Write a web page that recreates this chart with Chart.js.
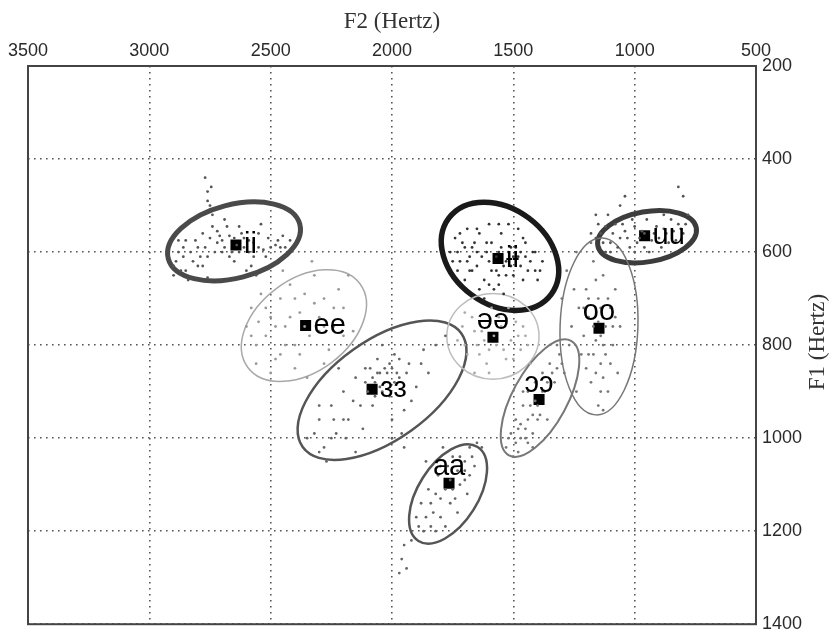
<!DOCTYPE html>
<html>
<head>
<meta charset="utf-8">
<script src="https://cdn.jsdelivr.net/npm/chart.js@4/dist/chart.umd.min.js"></script>
<style>
html,body{margin:0;padding:0;background:#fff;}
#wrap{width:837px;height:641px;}
</style>
</head>
<body>
<div id="wrap"><canvas id="c" width="837" height="641"></canvas></div>
<script>
// ---------- DATA ----------
const xTicks = [3500, 3000, 2500, 2000, 1500, 1000, 500];
const yTicks = [200, 400, 600, 800, 1000, 1200, 1400];
const xTitle = 'F2 (Hertz)';
const yTitle = 'F1 (Hertz)';

const categories = ['ii', 'ee', 'ɜɜ', 'ɨɨ', 'uu', 'əə', 'oo', 'ɔɔ', 'aa'];
const meanF2 = [2643, 2356, 2082, 1563, 959, 1584, 1147, 1394, 1765];
const meanF1 = [585, 758, 895, 614, 565, 783, 764, 917, 1097];

// ellipse: centre, end of major semi-axis (both in Hz), minor/major ratio
const ellipseCenterF2 = [2651, 2363, 2041, 1555, 949, 1584, 1147, 1390, 1769];
const ellipseCenterF1 = [577, 758, 897, 609, 567, 781, 760, 914, 1120];
const ellipseAxisEndF2 = [2380, 2132, 1714, 1344, 746, 1394, 1160, 1262, 1647];
const ellipseAxisEndF1 = [540, 668, 775, 691, 548, 781, 950, 791, 1019];
const ellipseMinorRatio = [0.54, 0.66, 0.51, 0.75, 0.5, 0.93, 0.44, 0.42, 0.54];

// token clouds [F2, F1]
const cloudIi = [[2880,600],[2850,575],[2820,620],[2800,590],[2780,560],[2760,610],[2740,545],[2720,580],[2700,600],[2690,530],[2670,565],[2650,620],[2630,545],[2610,590],[2590,575],[2570,610],[2550,560],[2530,595],[2510,570],[2480,585],[2450,565],[2420,575],[2600,640],[2560,650],[2870,640],[2900,650],[2760,470],[2770,440],[2750,500],[2740,520],[2660,600],[2700,575],[2620,560],[2580,630],[2800,630],[2840,660],[2680,545],[2540,540],[2720,555],[2640,585],[2460,590],[2860,610],
  [2890,620],[2860,590],[2830,600],[2810,575],[2790,610],[2770,590],[2750,570],[2730,600],[2710,565],[2690,590],[2670,610],[2650,570],[2630,600],[2610,570],[2590,600],[2570,580],[2550,590],[2520,610],[2500,590],[2470,575],[2440,590],[2880,575],[2900,630],[2850,640],[2780,630],[2760,655],[2760,490],[2745,460]];
const cloudEe = [[2600,760],[2580,720],[2560,800],[2540,690],[2520,780],[2500,740],[2480,830],[2460,700],[2440,760],[2420,670],[2400,800],[2380,730],[2360,690],[2340,780],[2320,650],[2300,740],[2280,700],[2260,810],[2240,760],[2220,680],[2200,720],[2180,650],[2160,770],[2400,850],[2350,870],[2500,860],[2280,840],[2450,640],[2330,620],[2550,750],[2420,740],[2300,770],
  [2580,780],[2520,720],[2480,760],[2440,800],[2400,700],[2360,760],[2320,710],[2280,760],[2240,720],[2200,780],[2460,820],[2380,820],[2560,840]];
const cloudEh = [[2350,1000],[2300,960],[2280,1020],[2250,930],[2230,990],[2200,900],[2180,960],[2150,870],[2130,930],[2110,850],[2100,900],[2080,870],[2060,830],[2050,890],[2030,850],[2010,910],[1990,820],[1970,870],[1950,940],[1930,840],[1900,890],[1870,810],[1850,860],[1820,800],[1780,780],[1960,990],[2000,960],[2150,1030],[2270,1050],[2220,850],[1920,920],[2040,800],[2120,980],[2080,930],[1990,880],[2010,840],[2060,860],[1970,830],
  [2070,880],[2050,860],[2030,880],[2020,860],[2090,850],[2000,850],[1980,860],[2040,900],[2110,880],[2070,910],[1940,860],[1880,840],[2160,920],[2200,960],[2250,1000],[2300,1030],[2320,990],[2190,1000],[2240,960],[2300,930],[2000,1000],[1950,1020]];
const cloudIbar = [[1760,600],[1740,570],[1720,620],[1700,590],[1690,550],[1670,640],[1650,600],[1640,560],[1620,660],[1600,620],[1590,580],[1570,640],[1560,600],[1550,560],[1530,620],[1510,590],[1500,650],[1480,610],[1460,570],[1440,640],[1420,600],[1400,660],[1380,620],[1580,680],[1540,690],[1620,700],[1700,660],[1730,640],[1480,550],[1520,540],[1600,540],[1660,580],[1560,650],[1450,610],[1410,640],[1500,610],[1680,610],[1610,600],[1540,630],[1470,630],
  [1750,620],[1730,600],[1710,580],[1690,620],[1670,590],[1650,630],[1630,610],[1610,580],[1590,640],[1570,610],[1550,590],[1530,650],[1510,630],[1490,590],[1470,600],[1450,580],[1430,620],[1410,600],[1390,640],[1600,670],[1640,680],[1560,670],[1680,640],[1520,600],[1460,660],[1720,560],[1650,550],[1560,540]];
const cloudUu = [[1180,560],[1150,540],[1130,580],[1110,520],[1090,560],[1070,590],[1050,540],[1030,570],[1010,530],[990,580],[970,555],[950,530],[930,575],[910,545],[890,590],[870,560],[850,530],[830,575],[810,550],[790,540],[1060,500],[1040,480],[800,480],[820,460],[780,520],[1000,600],[940,600],[1120,600],[880,520],[960,560],
  [1160,570],[1140,560],[1120,545],[1100,580],[1080,540],[1060,570],[1040,555],[1020,590],[1000,545],[980,570],[960,590],[920,560],[900,570],[880,550],[860,580],[840,555],[820,540],[800,560],[1160,520],[1100,600]];
const cloudSchwa = [[1730,790],[1710,760],[1690,820],[1670,740],[1650,800],[1630,770],[1610,840],[1590,720],[1570,800],[1550,760],[1530,830],[1510,790],[1490,750],[1470,810],[1450,780],[1430,840],[1600,860],[1660,860],[1520,720],[1700,730],[1580,780],[1640,820],
  [1700,800],[1620,790],[1560,740],[1540,810],[1480,780],[1460,760],[1660,770],[1600,810],[1500,830],[1440,800]];
const cloudOo = [[1300,700],[1280,640],[1260,760],[1240,600],[1220,820],[1200,680],[1190,740],[1180,880],[1170,620],[1160,790],[1150,700],[1140,840],[1130,650],[1120,760],[1110,900],[1100,720],[1090,800],[1080,680],[1070,860],[1060,760],[1180,580],[1240,900],[1150,930],[1200,850],[1120,600],[1140,780],[1170,820],[1130,870],[1210,720],
  [1250,680],[1230,720],[1210,780],[1190,700],[1170,760],[1160,660],[1150,750],[1140,720],[1130,800],[1120,820],[1110,700],[1100,840],[1090,760],[1080,740],[1160,860],[1190,820],[1140,900],[1130,940]];
const cloudOpen = [[1530,1020],[1510,990],[1500,1040],[1490,960],[1470,1000],[1460,930],[1450,980],[1440,900],[1420,950],[1410,880],[1400,930],[1380,860],[1370,900],[1350,840],[1330,880],[1310,820],[1290,860],[1270,800],[1480,1030],[1420,990],[1360,960],[1440,1010],[1320,800],[1390,950],[1460,900],
  [1520,1000],[1490,1010],[1470,970],[1450,1000],[1440,960],[1430,930],[1410,920],[1400,960],[1380,900],[1360,880],[1340,860],[1320,850],[1300,840],[1420,1020],[1480,980]];
const cloudAa = [[1900,1170],[1880,1140],[1870,1200],[1850,1110],[1830,1160],[1810,1080],[1800,1130],[1780,1190],[1770,1060],[1750,1110],[1730,1160],[1720,1040],[1700,1090],[1680,1020],[1660,1060],[1650,1010],[1820,1200],[1760,1140],[1700,1050],[1690,1120],[1950,1230],[1960,1260],[1940,1280],[1920,1220],[1970,1290],[1630,1020],[1860,1050],[1790,1020],
  [1890,1190],[1860,1170],[1840,1140],[1820,1120],[1800,1170],[1780,1110],[1760,1090],[1740,1130],[1720,1100],[1700,1070],[1680,1080],[1670,1040],[1840,1190],[1800,1060],[1750,1040],[1730,1070]];

const clouds = [cloudIi, cloudEe, cloudEh, cloudIbar, cloudUu, cloudSchwa, cloudOo, cloudOpen, cloudAa];

// ---------- STYLES ----------
const cloudColors = ['#555','#999','#666','#333','#555','#aaa','#777','#777','#666'];
const ellipseColors = ['#4a4a4a','#a8a8a8','#555','#1a1a1a','#3c3c3c','#bdbdbd','#777','#777','#555'];
const ellipseWidths = [5, 1.5, 2.5, 5.5, 5, 1.5, 1.5, 2, 2.5];
const labelSide = ['right','right','right','right','right','above','above','above','above'];

const datasets = clouds.map((pts, i) => ({
  label: categories[i] + ' tokens',
  data: pts.map(p => ({x: p[0], y: p[1]})),
  pointRadius: 1.4,
  pointBorderWidth: 0,
  backgroundColor: cloudColors[i],
  borderColor: cloudColors[i],
}));
datasets.push({
  label: 'means',
  data: meanF2.map((f2, i) => ({x: f2, y: meanF1[i]})),
  pointStyle: 'rect',
  pointRadius: 7.8,
  pointBorderWidth: 0,
  backgroundColor: '#000',
  borderColor: '#000',
});
const MEANS = datasets.length - 1;

const ellipsePlugin = {
  id: 'ellipses',
  beforeDatasetDraw(chart, args) {
    if (args.index !== MEANS) return;
    const xs = chart.scales.x, ys = chart.scales.y, ctx = chart.ctx;
    ctx.save();
    for (let i = 0; i < ellipseCenterF2.length; i++) {
      const cx = xs.getPixelForValue(ellipseCenterF2[i]);
      const cy = ys.getPixelForValue(ellipseCenterF1[i]);
      const ex = xs.getPixelForValue(ellipseAxisEndF2[i]);
      const ey = ys.getPixelForValue(ellipseAxisEndF1[i]);
      const a = Math.hypot(ex - cx, ey - cy);
      const rot = Math.atan2(ey - cy, ex - cx);
      ctx.beginPath();
      ctx.ellipse(cx, cy, a, a * ellipseMinorRatio[i], rot, 0, Math.PI * 2);
      ctx.lineWidth = ellipseWidths[i];
      ctx.strokeStyle = ellipseColors[i];
      ctx.stroke();
    }
    ctx.restore();
  },
  afterDatasetsDraw(chart) {
    const ctx = chart.ctx;
    const meta = chart.getDatasetMeta(MEANS);
    ctx.save();
    ctx.font = '29px "Liberation Sans", Arial, sans-serif';
    ctx.fillStyle = '#000';
    ctx.textBaseline = 'alphabetic';
    meta.data.forEach((pt, i) => {
      if (labelSide[i] === 'right') {
        ctx.textAlign = 'left';
        ctx.fillText(categories[i], pt.x + 8, pt.y + 8);
      } else {
        ctx.textAlign = 'center';
        ctx.fillText(categories[i], pt.x, pt.y - 8);
      }
    });
    // frame
    const ca = chart.chartArea;
    ctx.lineWidth = 2;
    ctx.strokeStyle = '#444';
    ctx.strokeRect(ca.left, ca.top, ca.right - ca.left, ca.bottom - ca.top);
    // right axis title, reading bottom to top
    ctx.translate(818, (ca.top + ca.bottom) / 2 - 3);
    ctx.rotate(-Math.PI / 2);
    ctx.font = '23px "Liberation Serif", "Times New Roman", serif';
    ctx.fillStyle = '#333';
    ctx.textAlign = 'center';
    ctx.textBaseline = 'middle';
    ctx.fillText(yTitle, 0, 0);
    ctx.restore();
  }
};

const gridStyle = {color: '#555', lineWidth: 1.6, drawTicks: false};
const tickFont = {family: '"Liberation Sans", Arial, sans-serif', size: 18};
const plainTick = v => String(v);

new Chart(document.getElementById('c'), {
  type: 'scatter',
  data: {datasets},
  options: {
    responsive: false,
    animation: false,
    devicePixelRatio: 1,
    layout: {padding: {left: 28, right: 0, top: 0, bottom: 9}},
    plugins: {legend: {display: false}, tooltip: {enabled: false}},
    scales: {
      x: {
        type: 'linear', position: 'top', reverse: true,
        min: 500, max: 3500,
        afterBuildTicks: s => { s.ticks = xTicks.map(v => ({value: v})); },
        afterFit: s => { s.height = 66; },
        ticks: {font: tickFont, color: '#2a2a2a', padding: 4, maxRotation: 0, autoSkip: false, callback: plainTick},
        grid: gridStyle,
        border: {display: false, dash: [1.6, 4.4]},
        title: {display: true, text: xTitle, color: '#333',
          font: {family: '"Liberation Serif", "Times New Roman", serif', size: 23, lineHeight: 1},
          padding: {top: 10, bottom: 0}}
      },
      y: {
        type: 'linear', position: 'right', reverse: true,
        min: 200, max: 1400,
        afterBuildTicks: s => { s.ticks = yTicks.map(v => ({value: v})); },
        afterFit: s => { s.width = 81; },
        ticks: {font: tickFont, color: '#2a2a2a', padding: 6, autoSkip: false, callback: plainTick},
        grid: gridStyle,
        border: {display: false, dash: [1.6, 4.4]}
      }
    }
  },
  plugins: [ellipsePlugin]
});
</script>
</body>
</html>
